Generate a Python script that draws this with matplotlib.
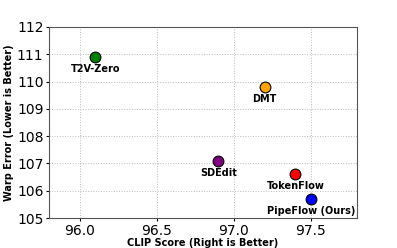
import matplotlib
matplotlib.use("Agg")
import matplotlib.pyplot as plt

methods = ["T2V-Zero", "DMT", "SDEdit", "TokenFlow", "PipeFlow (Ours)"]
clip = [96.1, 97.2, 96.9, 97.4, 97.5]
warp = [110.9, 109.8, 107.1, 106.6, 105.7]
colors = ["green", "orange", "purple", "red", "blue"]

fig = plt.figure(figsize=(3.97, 2.48), dpi=100)
ax = fig.add_axes([49/397, 30/248, 308/397, 191/248])
for m, x, y, c in zip(methods, clip, warp, colors):
    ax.scatter(x, y, s=60, color=c, edgecolors="black", linewidths=0.8, zorder=3)
    ax.annotate(m, (x, y), xytext=(0, -5), textcoords="offset points",
                ha="center", va="top", fontsize=7, fontweight="bold")
ax.set_xlim(95.8, 97.8)
ax.set_ylim(105, 112)
ax.set_xticks([96.0, 96.5, 97.0, 97.5])
ax.set_yticks(range(105, 113))
ax.tick_params(labelsize=10, length=2.5, pad=1.5)
ax.grid(True, linestyle=":", color="#bbbbbb", linewidth=0.7)
ax.set_axisbelow(True)
ax.set_xlabel("CLIP Score (Right is Better)", fontsize=7, fontweight="bold", labelpad=0.5)
ax.set_ylabel("Warp Error (Lower is Better)", fontsize=7, fontweight="bold", labelpad=2)
for s in ax.spines.values():
    s.set_color("#555555")
fig.savefig("out.png", dpi=100)
